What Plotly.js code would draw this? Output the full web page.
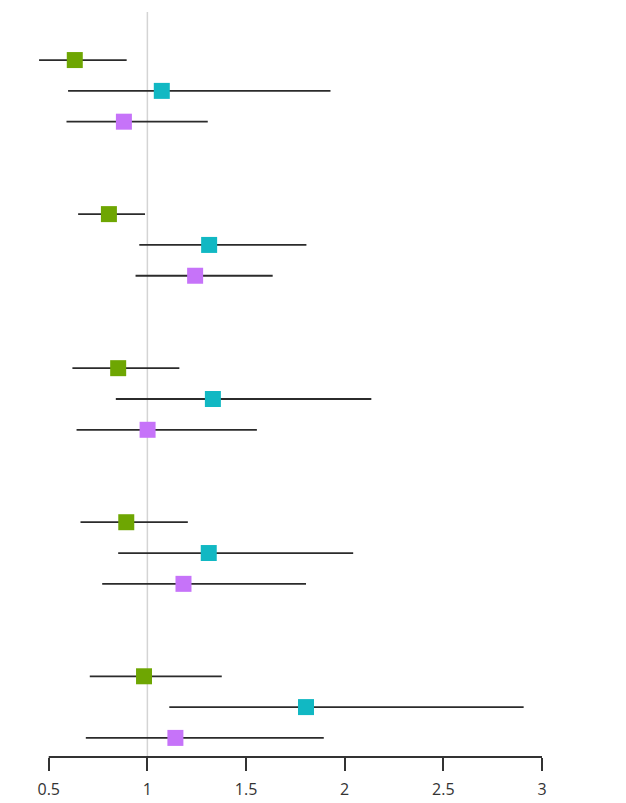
<!DOCTYPE html>
<html>
<head>
<meta charset="utf-8">
<script src="https://cdn.plot.ly/plotly-3.0.1.min.js"></script>
<style>html,body{margin:0;padding:0;background:#fff;}#chart{width:626px;height:803px;}</style>
</head>
<body>
<div id="chart"></div>
<script>
// Groups (top to bottom)
const groups = ["Group 1", "Group 2", "Group 3", "Group 4", "Group 5"];
const seriesNames = ["Series A", "Series B", "Series C"];

// Series A (green)
const aEst = [0.632, 0.805, 0.852, 0.893, 0.983];
const aLo  = [0.451, 0.649, 0.620, 0.661, 0.708];
const aHi  = [0.895, 0.988, 1.162, 1.205, 1.377];

// Series B (cyan)
const bEst = [1.073, 1.313, 1.332, 1.311, 1.804];
const bLo  = [0.598, 0.959, 0.840, 0.852, 1.111];
const bHi  = [1.928, 1.806, 2.135, 2.043, 2.907];

// Series C (purple)
const cEst = [0.881, 1.242, 1.001, 1.183, 1.142];
const cLo  = [0.590, 0.940, 0.641, 0.771, 0.688];
const cHi  = [1.306, 1.635, 1.555, 1.804, 1.894];

const tickVals = [0.5, 1, 1.5, 2, 2.5, 3];
const tickLabels = ["0.5", "1", "1.5", "2", "2.5", "3"];
const refValue = 1;
const axisStart = 0.5, axisEnd = 3;

const colors = ["#6ea602", "#11b8c3", "#c673f9"];
const series = [[aEst, aLo, aHi], [bEst, bLo, bHi], [cEst, cLo, cHi]];

const traces = series.map(function (s, k) {
  const est = s[0], lo = s[1], hi = s[2];
  return {
    type: "scatter",
    mode: "markers",
    name: seriesNames[k],
    x: est,
    y: groups.map(function (g, i) { return i * 5 + k; }),
    error_x: {
      type: "data",
      symmetric: false,
      array: est.map(function (v, i) { return hi[i] - v; }),
      arrayminus: est.map(function (v, i) { return v - lo[i]; }),
      color: "#2b2b2b",
      thickness: 1.8,
      width: 0
    },
    marker: { symbol: "square", size: 16, color: colors[k], line: { width: 0 } },
    hoverinfo: "x"
  };
});

const layout = {
  width: 626,
  height: 803,
  margin: { l: 29, r: 84, t: 12, b: 46 },
  paper_bgcolor: "#ffffff",
  plot_bgcolor: "#ffffff",
  showlegend: false,
  font: { family: "Open Sans, Noto Sans, sans-serif", color: "#333333", size: 16 },
  xaxis: {
    range: [0.4, axisEnd],
    tickmode: "array",
    tickvals: tickVals,
    ticktext: tickLabels,
    showgrid: false,
    zeroline: false,
    showline: false,
    ticks: "outside",
    ticklen: 13,
    tickwidth: 2,
    tickcolor: "#333333",
    ticklabelstandoff: 5,
    tickfont: { size: 16, color: "#333333" }
  },
  yaxis: {
    range: [22.62, -1.56],
    showgrid: false,
    zeroline: false,
    showline: false,
    showticklabels: false,
    ticks: ""
  },
  shapes: [{
    type: "line",
    xref: "x", yref: "paper",
    x0: refValue, x1: refValue, y0: 0, y1: 1,
    line: { color: "#d4d4d4", width: 1.5 },
    layer: "below"
  }, {
    type: "line",
    xref: "x", yref: "paper",
    x0: axisStart, x1: axisEnd, y0: 0, y1: 0,
    line: { color: "#333333", width: 2 },
    layer: "above"
  }]
};

Plotly.newPlot("chart", traces, layout, { displayModeBar: false, staticPlot: true });
</script>
</body>
</html>
